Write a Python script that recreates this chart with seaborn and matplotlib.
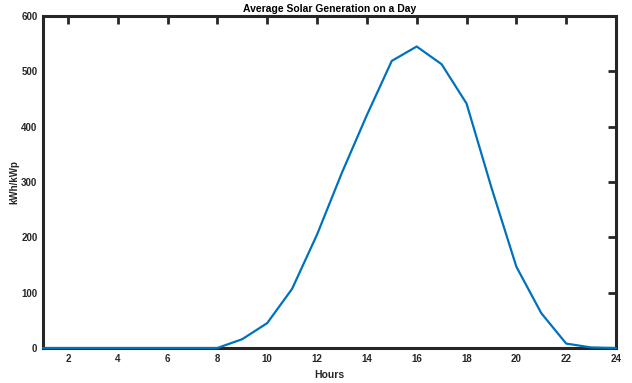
import matplotlib
matplotlib.use("Agg")
import matplotlib.pyplot as plt
import seaborn as sns
import pandas as pd

hours = list(range(1, 25))
generation = [0, 0, 0, 0, 0, 0, 0, 0, 16, 45, 107, 205, 317, 421,
              519, 545, 513, 442, 290, 147, 63, 8, 1, 0]
x_ticks = list(range(2, 25, 2))
y_ticks = list(range(0, 601, 100))

sns.set_style("white")
plt.rcParams["font.family"] = ["Liberation Sans Narrow", "Liberation Sans", "DejaVu Sans"]
plt.rcParams["font.weight"] = "bold"

df = pd.DataFrame({"Hours": hours, "kWh/kWp": generation})

fig = plt.figure(figsize=(6.32, 3.83), dpi=100)
ax = fig.add_axes([0.068, 0.0914, 0.9067, 0.8666])
sns.lineplot(data=df, x="Hours", y="kWh/kWp", ax=ax, color="#0072BD",
             linewidth=1.6, clip_on=False, zorder=3)

ax.set_xlim(1, 24)
ax.set_ylim(0, 600)
ax.set_xticks(x_ticks)
ax.set_yticks(y_ticks)

dark = "#262626"
for s in ax.spines.values():
    s.set_visible(True)
    s.set_linewidth(2.2)
    s.set_color(dark)
ax.tick_params(axis="both", direction="in", length=6, width=2, color=dark,
               labelsize=7, labelcolor=dark, top=True, right=True, pad=4)
for lbl in ax.get_xticklabels() + ax.get_yticklabels():
    lbl.set_fontweight("bold")

ax.set_xlabel("Hours", fontsize=7.5, fontweight="bold", color=dark, labelpad=5)
ax.set_ylabel("kWh/kWp", fontsize=7, fontweight="bold", color=dark)
ax.yaxis.set_label_coords(-0.041, 0.5)
ax.set_title("Average Solar Generation on a Day", fontsize=7.5, fontweight="bold",
             color="black", pad=3)

fig.savefig("out.png", dpi=100)
